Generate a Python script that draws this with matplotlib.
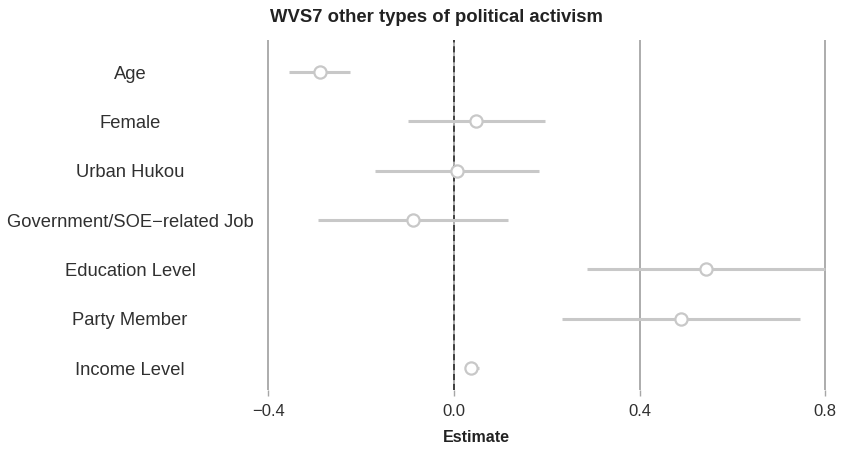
import matplotlib
matplotlib.use("Agg")
import matplotlib.pyplot as plt

terms = ["Age", "Female", "Urban Hukou", "Government/SOE\u2212related Job",
         "Education Level", "Party Member", "Income Level"]
estimate = [-0.289, 0.047, 0.006, -0.088, 0.543, 0.489, 0.037]
conf_low = [-0.356, -0.099, -0.170, -0.293, 0.287, 0.233, 0.024]
conf_high = [-0.224, 0.196, 0.183, 0.116, 0.800, 0.746, 0.054]
xticks = [-0.4, 0.0, 0.4, 0.8]
xtick_labels = ["\u22120.4", "0.0", "0.4", "0.8"]

plt.rcParams['font.family'] = ['Liberation Sans', 'DejaVu Sans']

W, H = 841, 459
fig = plt.figure(figsize=(W / 100, H / 100), dpi=100)
left_px, right_px = 261.5, 839.0
top_px, bot_px = 40.0, 390.0
ax = fig.add_axes([left_px / W, (H - bot_px) / H, (right_px - left_px) / W, (bot_px - top_px) / H])

n = len(terms)
ypos = [n - i for i in range(n)]

for xt in xticks:
    ax.axvline(xt, color="#a6a6a6", lw=1.3, zorder=1)
ax.axvline(0.0, color="#222222", lw=1.1, ls=(0, (4, 2.5)), zorder=2)

for y, e, lo, hi in zip(ypos, estimate, conf_low, conf_high):
    ax.plot([lo, hi], [y, y], color="#c8c8c8", lw=2.2, solid_capstyle="butt", zorder=3)
    ax.plot([e], [y], marker="o", ms=8.8, mfc="white", mec="#c8c8c8", mew=1.6, zorder=4)

ax.set_xlim(-0.415, 0.83)
ax.set_ylim(0.554, 7.65)
ax.set_xticks(xticks)
ax.set_xticklabels(xtick_labels, fontsize=12, color="#303030")
ax.set_yticks(ypos)
ax.set_yticklabels(terms, fontsize=13.2, color="#303030", ha="center")
ax.tick_params(axis="y", length=0, pad=(left_px - 130) * 0.72)
ax.tick_params(axis="x", length=4, color="#a6a6a6", width=1, pad=6)
for s in ax.spines.values():
    s.set_visible(False)

fig.text(436 / W, 1 - 18 / H, "WVS7 other types of political activism",
         ha="center", va="center", fontsize=13.3, fontweight="bold", color="#222222")
fig.text(476 / W, 1 - 437 / H, "Estimate", ha="center", va="center",
         fontsize=11.5, fontweight="bold", color="#222222")

fig.savefig("out.png", dpi=100)
